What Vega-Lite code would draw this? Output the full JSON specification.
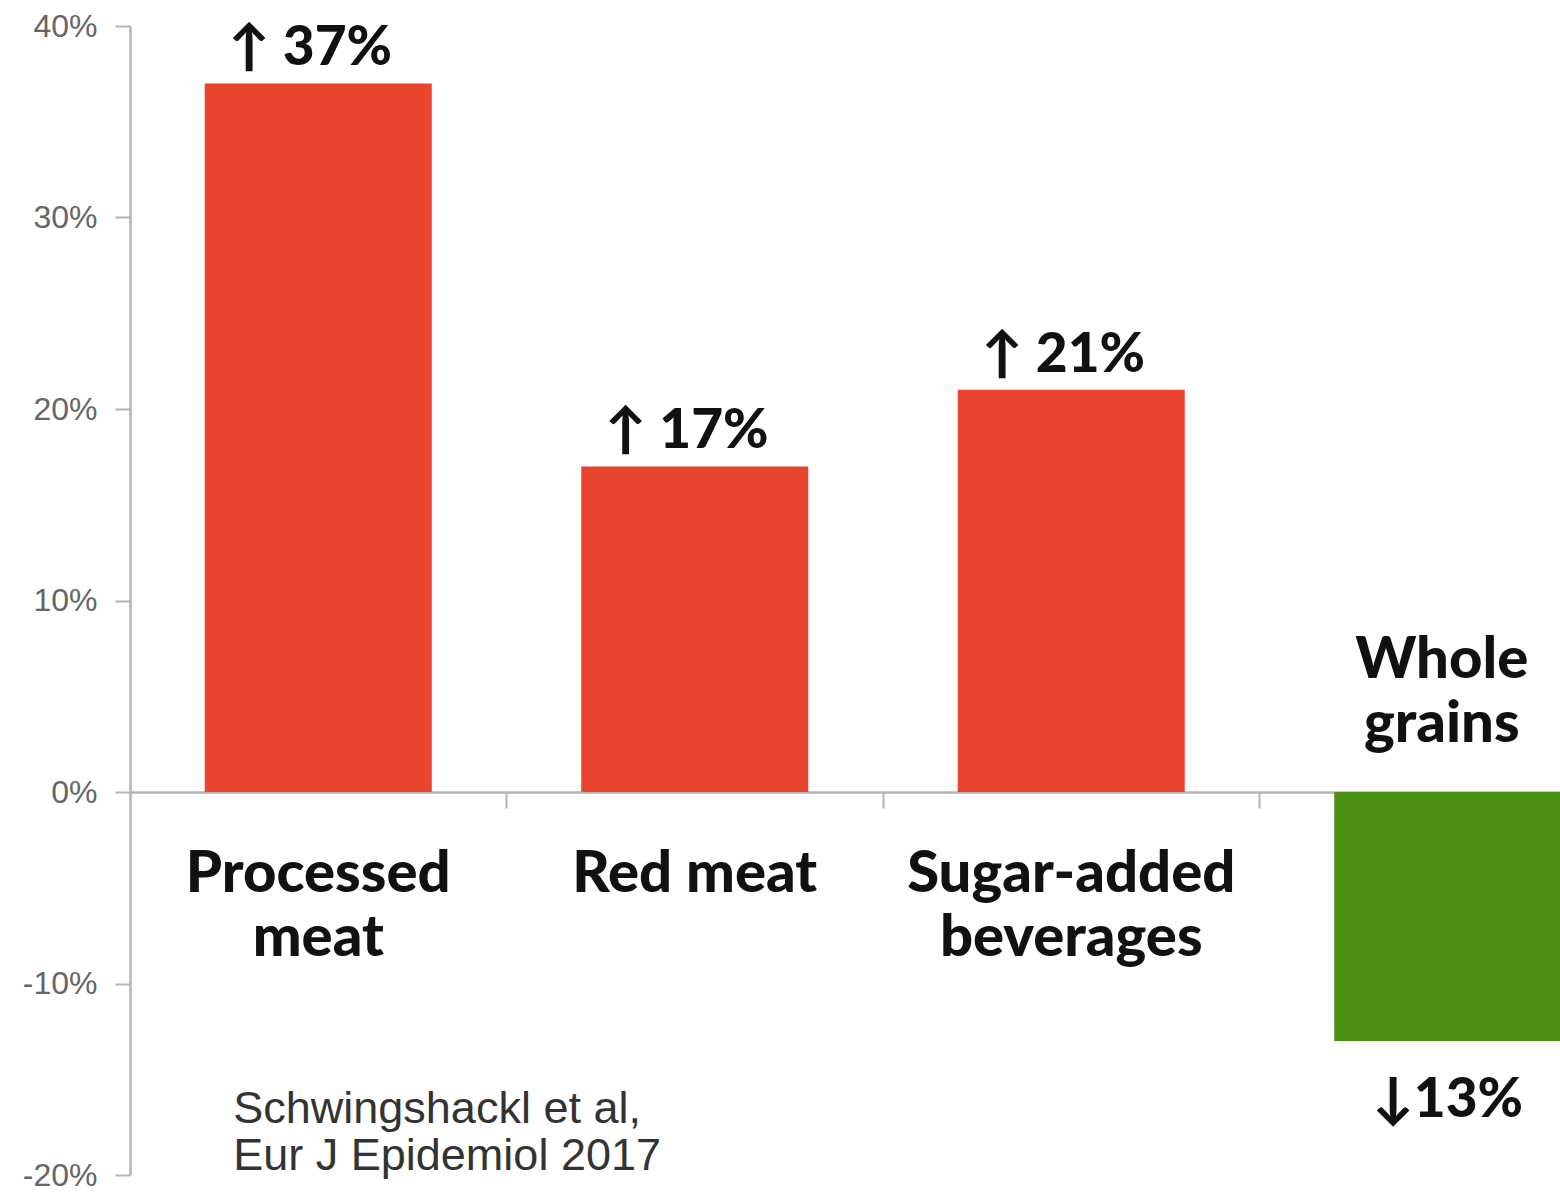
{
  "$schema": "https://vega.github.io/schema/vega-lite/v6.json",
  "autosize": {"type": "none"},
  "padding": {"left": 130, "top": 26, "right": 0, "bottom": 20},
  "width": 1430,
  "height": 1149,
  "background": "white",
  "config": {"view": {"stroke": null}},
  "data": {
    "values": [
      {"category": "Processed meat", "display": "Processed\nmeat", "value": 37, "label": "↑ 37%", "group": "up"},
      {"category": "Red meat", "display": "Red meat", "value": 17, "label": "↑ 17%", "group": "up"},
      {"category": "Sugar-added beverages", "display": "Sugar-added\nbeverages", "value": 21, "label": "↑ 21%", "group": "up"},
      {"category": "Whole grains", "display": "Whole\ngrains", "value": -13, "label": "↓13%", "group": "down"}
    ]
  },
  "encoding": {
    "x": {
      "field": "category",
      "type": "nominal",
      "sort": null,
      "scale": {"range": [0, 1506], "paddingInner": 0.397, "paddingOuter": 0.1985},
      "axis": {
        "orient": "bottom",
        "offset": -383,
        "bandPosition": 1.33,
        "labels": false,
        "title": null,
        "domain": true,
        "domainColor": "#b5b5b5",
        "domainWidth": 2.5,
        "ticks": true,
        "tickColor": "#b5b5b5",
        "tickWidth": 2,
        "tickSize": 16
      }
    }
  },
  "layer": [
    {
      "mark": {"type": "bar", "clip": true},
      "encoding": {
        "y": {
          "field": "value",
          "type": "quantitative",
          "scale": {"domain": [-20, 40], "nice": false, "zero": false},
          "axis": {
            "title": null,
            "grid": false,
            "values": [-20, -10, 0, 10, 20, 30, 40],
            "labelExpr": "datum.value + '%'",
            "labelFont": "Liberation Sans",
            "labelFontSize": 32,
            "labelColor": "#666666",
            "labelPadding": 18,
            "domainColor": "#b5b5b5",
            "domainWidth": 2.5,
            "tickColor": "#b5b5b5",
            "tickWidth": 2,
            "tickSize": 15
          }
        },
        "y2": {"datum": 0},
        "color": {
          "field": "group",
          "type": "nominal",
          "scale": {"domain": ["up", "down"], "range": ["#E9442E", "#4B8F11"]},
          "legend": null
        }
      }
    },
    {
      "transform": [{"filter": "datum.value > 0"}],
      "mark": {"type": "text", "font": "Lato", "fontWeight": 900, "fontSize": 55, "color": "#111111", "baseline": "alphabetic", "align": "center", "dy": -18, "dx": -8},
      "encoding": {
        "y": {"field": "value", "type": "quantitative"},
        "text": {"field": "label"}
      }
    },
    {
      "transform": [{"filter": "datum.value < 0"}],
      "mark": {"type": "text", "font": "Lato", "fontWeight": 900, "fontSize": 55, "color": "#111111", "baseline": "alphabetic", "align": "center", "dy": 76},
      "encoding": {
        "y": {"field": "value", "type": "quantitative"},
        "text": {"field": "label"}
      }
    },
    {
      "transform": [{"filter": "datum.value > 0"}],
      "mark": {"type": "text", "font": "Lato", "fontWeight": 900, "fontSize": 58, "color": "#111111", "baseline": "alphabetic", "align": "center", "dy": 100, "lineBreak": "\n", "lineHeight": 64},
      "encoding": {
        "y": {"datum": 0},
        "text": {"field": "display"}
      }
    },
    {
      "transform": [{"filter": "datum.value < 0"}],
      "mark": {"type": "text", "font": "Lato", "fontWeight": 900, "fontSize": 58, "color": "#111111", "baseline": "alphabetic", "align": "center", "dy": -114, "dx": -6, "lineBreak": "\n", "lineHeight": 64},
      "encoding": {
        "y": {"datum": 0},
        "text": {"field": "display"}
      }
    },
    {
      "data": {"values": [{"note": "Schwingshackl et al,\nEur J Epidemiol 2017"}]},
      "mark": {"type": "text", "font": "Liberation Sans", "fontSize": 45, "color": "#333333", "baseline": "alphabetic", "align": "left", "dx": -85, "dy": 44, "lineBreak": "\n", "lineHeight": 47},
      "encoding": {
        "x": {"datum": "Processed meat"},
        "y": {"datum": -15},
        "text": {"field": "note"}
      }
    }
  ]
}
